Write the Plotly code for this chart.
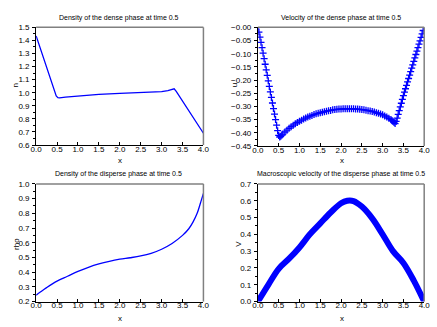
import plotly.graph_objects as go

# ---- dense phase density n(x) ----
x_n = [0.0, 0.1, 0.2, 0.3, 0.4, 0.48, 0.52, 0.56, 0.7, 1.0, 1.5, 2.0, 2.5, 2.8,
       3.0, 3.15, 3.25, 3.3, 3.35, 3.5, 3.75, 4.0]
n_vals = [1.435, 1.338, 1.241, 1.144, 1.047, 0.975, 0.962, 0.960, 0.966, 0.976,
          0.988, 0.995, 1.000, 1.004, 1.009, 1.016, 1.025, 1.030, 1.010, 0.935,
          0.812, 0.690]

# ---- dense phase velocity u(x) ----
x_u = [0.0, 0.025, 0.05, 0.075, 0.1, 0.125, 0.15, 0.175, 0.2, 0.225, 0.25, 0.275,
       0.3, 0.325, 0.35, 0.375, 0.4, 0.425, 0.45, 0.475, 0.5, 0.525, 0.55, 0.575,
       0.6, 0.65, 0.7, 0.75, 0.8, 0.85, 0.9, 0.95, 1.0, 1.05, 1.1, 1.15, 1.2, 1.25,
       1.3, 1.35, 1.4, 1.45, 1.5, 1.55, 1.6, 1.65, 1.7, 1.75, 1.8, 1.85, 1.9, 1.95,
       2.0, 2.05, 2.1, 2.15, 2.2, 2.25, 2.3, 2.35, 2.4, 2.45, 2.5, 2.55, 2.6, 2.65,
       2.7, 2.75, 2.8, 2.85, 2.9, 2.95, 3.0, 3.05, 3.1, 3.15, 3.2, 3.225, 3.25,
       3.275, 3.3, 3.325, 3.35, 3.375, 3.4, 3.425, 3.45, 3.475, 3.5, 3.525, 3.55,
       3.575, 3.6, 3.625, 3.65, 3.675, 3.7, 3.725, 3.75, 3.775, 3.8, 3.825, 3.85,
       3.875, 3.9, 3.925, 3.95, 3.975, 4.0]
u_vals = [0.0, -0.018, -0.037, -0.057, -0.077, -0.098, -0.119, -0.140, -0.161,
          -0.182, -0.203, -0.224, -0.245, -0.266, -0.287, -0.308, -0.329, -0.350,
          -0.371, -0.392, -0.410, -0.416, -0.413, -0.409, -0.405, -0.397, -0.390,
          -0.383, -0.377, -0.371, -0.366, -0.361, -0.356, -0.352, -0.348, -0.344,
          -0.340, -0.337, -0.334, -0.331, -0.328, -0.326, -0.324, -0.322, -0.320,
          -0.318, -0.316, -0.315, -0.313, -0.312, -0.311, -0.310, -0.310, -0.309,
          -0.309, -0.309, -0.309, -0.309, -0.309, -0.310, -0.310, -0.311, -0.312,
          -0.313, -0.314, -0.316, -0.317, -0.319, -0.321, -0.324, -0.326, -0.329,
          -0.332, -0.336, -0.340, -0.345, -0.350, -0.353, -0.357, -0.361, -0.365,
          -0.357, -0.344, -0.330, -0.316, -0.302, -0.288, -0.273, -0.259, -0.246,
          -0.233, -0.220, -0.207, -0.194, -0.181, -0.168, -0.155, -0.142, -0.129,
          -0.116, -0.103, -0.090, -0.077, -0.064, -0.051, -0.038, -0.025, -0.012,
          0.0]

# ---- disperse phase density rho(x) ----
x_rho = [0.0, 0.1, 0.25, 0.5, 0.75, 1.0, 1.25, 1.5, 1.75, 2.0, 2.25, 2.5, 2.75,
         3.0, 3.25, 3.5, 3.65, 3.75, 3.85, 3.95, 4.0]
rho_vals = [0.244, 0.265, 0.295, 0.339, 0.372, 0.405, 0.433, 0.456, 0.474, 0.488,
            0.498, 0.510, 0.528, 0.556, 0.595, 0.650, 0.695, 0.740, 0.800, 0.890,
            0.936]

# ---- disperse phase macroscopic velocity V(x) ----
x_v = [0.0, 0.25, 0.5, 0.75, 1.0, 1.25, 1.5, 1.75, 2.0, 2.15, 2.3, 2.5, 2.75,
       3.0, 3.25, 3.5, 3.75, 4.0]
v_vals = [0.0, 0.100, 0.195, 0.255, 0.322, 0.400, 0.465, 0.530, 0.585, 0.600,
          0.598, 0.565, 0.495, 0.400, 0.300, 0.230, 0.125, 0.0]

x_ticks = [0.0, 0.5, 1.0, 1.5, 2.0, 2.5, 3.0, 3.5, 4.0]
u_ticks = [0.0, -0.05, -0.10, -0.15, -0.20, -0.25, -0.30, -0.35, -0.40, -0.45]
u_tick_text = ["\u22120.00", "\u22120.05", "\u22120.10", "\u22120.15", "\u22120.20",
               "\u22120.25", "\u22120.30", "\u22120.35", "\u22120.40", "\u22120.45"]

titles = ["Density of the dense phase at time 0.5",
          "Velocity of the dense phase at time 0.5",
          "Density of the disperse phase at time 0.5",
          "Macroscopic velocity of the disperse phase at time 0.5"]
y_labels = ["n", "u", "rho", "V"]

W, H = 437, 327
BLUE = "#0000ff"
FONT = "Liberation Sans, Arial, sans-serif"

fig = go.Figure()
fig.add_trace(go.Scatter(x=x_n, y=n_vals, mode="lines", xaxis="x", yaxis="y",
                         line=dict(color=BLUE, width=1.3)))
fig.add_trace(go.Scatter(x=x_u, y=u_vals, mode="markers", xaxis="x2", yaxis="y2",
                         marker=dict(symbol="cross-thin", size=5, color=BLUE,
                                     line=dict(color=BLUE, width=1.3))))
fig.add_trace(go.Scatter(x=x_rho, y=rho_vals, mode="lines", xaxis="x3", yaxis="y3",
                         line=dict(color=BLUE, width=1.3, shape="spline")))
fig.add_trace(go.Scatter(x=x_v, y=v_vals, mode="lines", xaxis="x4", yaxis="y4",
                         line=dict(color=BLUE, width=6, shape="spline")))

# plot boxes in pixels: (left, right, top, bottom)
boxes = [(31, 203, 24, 145), (259, 430, 24, 146), (31, 203, 185, 306), (259, 430, 185, 306)]
y_ranges = [[0.6, 1.5], [-0.45, 0.0], [0.2, 1.0], [0.0, 0.7]]
y_dticks = [0.1, 0.05, 0.1, 0.1]

layout = dict(width=W, height=H, margin=dict(l=0, r=0, t=0, b=0),
              paper_bgcolor="white", plot_bgcolor="white", showlegend=False,
              font=dict(family=FONT, size=8, color="black"))

for i, (l, r, t, b) in enumerate(boxes):
    sfx = "" if i == 0 else str(i + 1)
    xa = dict(domain=[l / W, r / W], range=[0, 4], tickvals=x_ticks, tickformat=".1f",
              showgrid=False, zeroline=False, showline=True, linecolor="black",
              linewidth=1, ticks="inside", ticklen=3, tickcolor="black",
              anchor="y" + sfx, tickfont=dict(size=8), ticklabelstandoff=-4)
    ya = dict(domain=[1 - b / H, 1 - t / H], range=y_ranges[i], showgrid=False,
              zeroline=False, showline=True, linecolor="black", linewidth=1,
              ticks="outside", ticklen=3, tickcolor="black", anchor="x" + sfx,
              tickfont=dict(size=8), ticklabelstandoff=1,
              minor=dict(ticks="outside", ticklen=2, tickcolor="black",
                         dtick=y_dticks[i] / 2))
    if i == 1:
        ya.update(tickvals=u_ticks, ticktext=u_tick_text)
    else:
        ya.update(dtick=y_dticks[i], tickformat=".1f")
    layout["xaxis" + sfx] = xa
    layout["yaxis" + sfx] = ya

fig.update_layout(**layout)

# grey top and right frame edges
for i in range(4):
    sfx = "" if i == 0 else str(i + 1)
    fig.add_shape(type="line", xref="x" + sfx + " domain", yref="y" + sfx + " domain",
                  x0=0, x1=1, y0=1, y1=1, line=dict(color="#808080", width=1.5))
    fig.add_shape(type="line", xref="x" + sfx + " domain", yref="y" + sfx + " domain",
                  x0=1, x1=1, y0=0, y1=1, line=dict(color="#808080", width=1.5))

# titles and axis labels
title_pos = [(116, 14), (344, 14), (116, 175), (344, 175)]
for (px, py), txt in zip(title_pos, titles):
    fig.add_annotation(x=px / W, y=1 - py / H, xref="paper", yref="paper", text=txt,
                       showarrow=False, font=dict(size=7), xanchor="center",
                       yanchor="middle")

xlabel_pos = [(117, 161), (345, 161), (117, 323), (345, 323)]
for px, py in xlabel_pos:
    fig.add_annotation(x=px / W, y=1 - py / H, xref="paper", yref="paper", text="x",
                       showarrow=False, font=dict(size=8), xanchor="center",
                       yanchor="middle")

ylabel_pos = [(10, 84), (235, 84), (10, 247), (239, 246)]
for (px, py), txt in zip(ylabel_pos, y_labels):
    fig.add_annotation(x=px / W, y=1 - py / H, xref="paper", yref="paper", text=txt,
                       showarrow=False, font=dict(size=8), textangle=-90,
                       xanchor="center", yanchor="middle")

fig.write_html("out.html")
